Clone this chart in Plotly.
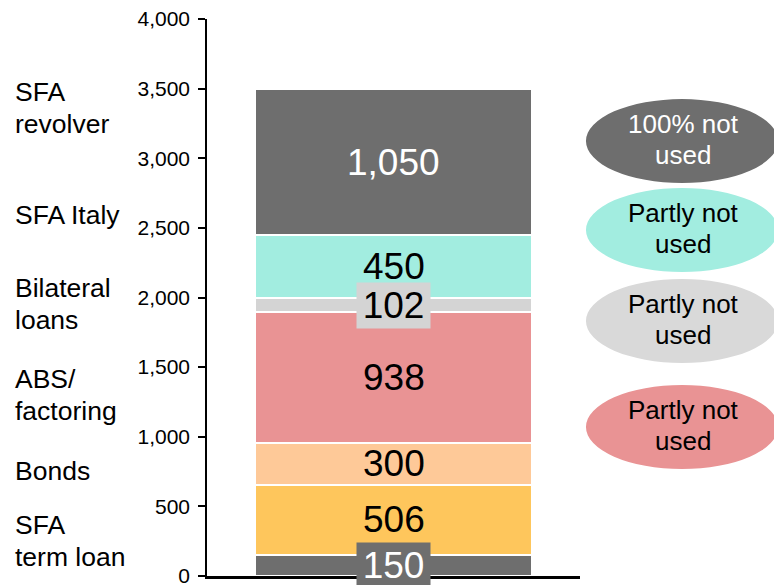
import numpy as np
import plotly.graph_objects as go

# ---- data ----
values = [150, 506, 300, 938, 102, 450, 1050]
value_labels = ["150", "506", "300", "938", "102", "450", "1,050"]
seg_colors = ["#6e6e6e", "#fec65c", "#fec998", "#e99394", "#d4d4d4", "#a2ede0", "#6e6e6e"]
label_colors = ["white", "black", "black", "black", "black", "black", "white"]
boxed = [True, False, False, False, True, False, False]

side_labels = ["SFA<br>term loan", "Bonds", "ABS/<br>factoring", "Bilateral<br>loans", "SFA Italy", "SFA<br>revolver"]
notes = ["100% not<br>used", "Partly not<br>used", "Partly not<br>used", "Partly not<br>used"]
note_colors = ["#6e6e6e", "#a2ede0", "#d9d9d9", "#e99394"]
note_text_colors = ["white", "black", "black", "black"]

y_ticks = [0, 500, 1000, 1500, 2000, 2500, 3000, 3500, 4000]

# ---- layout helpers (positions, not data) ----
side_label_y = [251, 754, 1300, 1953, 2592, 3361]
note_y = [(2822, 3425), (2183, 2786), (1530, 2133), (768, 1372)]
FONT = "Liberation Sans, Arial, sans-serif"


def line_annotations(text, spacing, **kw):
    lines = text.split("<br>")
    n = len(lines)
    out = []
    for i, ln in enumerate(lines):
        d = dict(kw)
        d.update(text=ln, yshift=((n - 1) / 2 - i) * spacing, showarrow=False, yanchor="middle")
        out.append(d)
    return out


fig = go.Figure()
for v, c in zip(values, seg_colors):
    fig.add_trace(go.Bar(
        x=[0], y=[v], width=0.74,
        marker=dict(color=c, line=dict(color="white", width=2)),
        hoverinfo="skip", showlegend=False,
    ))

centers = np.cumsum(values) - np.array(values) / 2
annotations = []
for yc, t, tc, b, c in zip(centers, value_labels, label_colors, boxed, seg_colors):
    a = dict(x=0, y=float(yc), xref="x", yref="y", text=t, showarrow=False,
             font=dict(family=FONT, size=37, color=tc), xanchor="center", yanchor="middle")
    if b:
        a.update(bgcolor=c, width=71, height=43, borderpad=1)
    annotations.append(a)

for t, yv in zip(side_labels, side_label_y):
    annotations += line_annotations(t, 32, x=-0.521, y=yv, xref="paper", yref="y",
                                    align="left", xanchor="left",
                                    font=dict(family=FONT, size=26.5, color="black"))

shapes = []
for t, (y0, y1), c, tc in zip(notes, note_y, note_colors, note_text_colors):
    shapes.append(dict(type="circle", xref="paper", yref="y", x0=1.016, x1=1.531, y0=y0, y1=y1,
                       fillcolor=c, line=dict(width=0), layer="below"))
    annotations += line_annotations(t, 31, x=1.277, y=(y0 + y1) / 2 + 12, xref="paper", yref="y",
                                    align="center", xanchor="center",
                                    font=dict(family=FONT, size=26, color=tc))

fig.update_layout(
    barmode="stack",
    width=774, height=585,
    margin=dict(l=207, r=194, t=19, b=9, autoexpand=False),
    plot_bgcolor="white", paper_bgcolor="white",
    annotations=annotations, shapes=shapes,
    font=dict(family=FONT, color="black"),
    xaxis=dict(range=[-0.5, 0.5], showticklabels=False, ticks="", showgrid=False, zeroline=False,
               showline=True, linecolor="black", linewidth=2.5, fixedrange=True, automargin=False),
    yaxis=dict(range=[0, 4000], tickvals=y_ticks, tickformat=",", showgrid=False, zeroline=False,
               showline=True, linecolor="black", linewidth=1.5, ticks="outside", ticklen=7,
               tickwidth=1.5, tickcolor="black", tickfont=dict(family=FONT, size=21, color="black"),
               ticklabelstandoff=4, ticklabeloverflow="allow", fixedrange=True, automargin=False),
)

fig.write_html("out.html")
